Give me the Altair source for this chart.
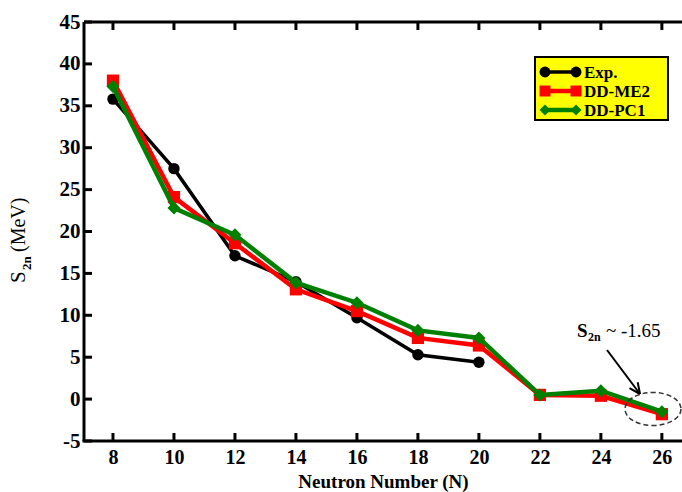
import altair as alt
import pandas as pd

# ---------------- data ----------------
N_exp = [8, 10, 12, 14, 16, 18, 20]
S2n_exp = [35.8, 27.5, 17.1, 14.0, 9.7, 5.3, 4.4]

N_th = [8, 10, 12, 14, 16, 18, 20, 22, 24, 26]
S2n_me2 = [38.0, 24.1, 18.6, 13.1, 10.5, 7.3, 6.4, 0.5, 0.4, -1.8]
S2n_pc1 = [37.3, 22.8, 19.6, 13.9, 11.5, 8.2, 7.3, 0.5, 1.0, -1.5]

series_names = ["Exp.", "DD-ME2", "DD-PC1"]
series_colors = ["#000000", "#FF0000", "#008000"]
series_shapes = ["circle", "square", "diamond"]

x_ticks = [8, 10, 12, 14, 16, 18, 20, 22, 24, 26]
y_ticks = [-5, 0, 5, 10, 15, 20, 25, 30, 35, 40, 45]

W, H = 598, 419
FONT = "Liberation Serif"

df_exp = pd.DataFrame({"N": N_exp, "S2n": S2n_exp})
df_me2 = pd.DataFrame({"N": N_th, "S2n": S2n_me2})
df_pc1 = pd.DataFrame({"N": N_th, "S2n": S2n_pc1})
df_xt = pd.DataFrame({"N": x_ticks})
df_yt = pd.DataFrame({"S2n": y_ticks})
one = pd.DataFrame({"a": [0]})

xscale = alt.Scale(domain=[7.05, 26.66], nice=False, zero=False)
yscale = alt.Scale(domain=[-5, 45], nice=False, zero=False)

xenc = alt.X("N:Q", scale=xscale,
             axis=alt.Axis(values=x_ticks, title="Neutron Number (N)",
                           labelExpr="datum.value + ''"))
yenc = alt.Y("S2n:Q", scale=yscale,
             axis=alt.Axis(values=y_ticks, title=None, labelExpr="datum.value + ''"))


def series_layer(df, color, shape, lw, size):
    line = alt.Chart(df).mark_line(color=color, strokeWidth=lw).encode(x=xenc, y=yenc)
    pts = alt.Chart(df).mark_point(shape=shape, filled=True, color=color, size=size,
                                   opacity=1).encode(x=xenc, y=yenc)
    return line + pts


exp_l = series_layer(df_exp, series_colors[0], series_shapes[0], 3.5, 130)
me2_l = series_layer(df_me2, series_colors[1], series_shapes[1], 4.5, 150)
pc1_l = series_layer(df_pc1, series_colors[2], series_shapes[2], 4.5, 170)

# frame lines (left, top, bottom)
frame_left = alt.Chart(one).mark_rule(color="black", strokeWidth=3).encode(
    x=alt.value(0), y=alt.value(0), y2=alt.value(H))
frame_top = alt.Chart(one).mark_rule(color="black", strokeWidth=3).encode(
    x=alt.value(0), x2=alt.value(W), y=alt.value(0))
frame_bot = alt.Chart(one).mark_rule(color="black", strokeWidth=3).encode(
    x=alt.value(-1.5), x2=alt.value(W), y=alt.value(H))

# inward ticks
tick_b = alt.Chart(df_xt).mark_rule(color="black", strokeWidth=3).encode(
    x=xenc, y=alt.value(H), y2=alt.value(H - 8))
tick_t = alt.Chart(df_xt).mark_rule(color="black", strokeWidth=3).encode(
    x=xenc, y=alt.value(0), y2=alt.value(8))
tick_l = alt.Chart(df_yt).mark_rule(color="black", strokeWidth=3).encode(
    y=yenc, x=alt.value(0), x2=alt.value(8))

# y-axis title with subscript
yt_S = alt.Chart(one).mark_text(text="S", font=FONT, fontSize=21, angle=270,
                                align="left", baseline="alphabetic", color="black").encode(
    x=alt.value(-59), y=alt.value(261))
yt_sub = alt.Chart(one).mark_text(text="2n", font=FONT, fontSize=13, angle=270,
                                  fontWeight="bold", align="left", baseline="alphabetic",
                                  color="black").encode(
    x=alt.value(-53), y=alt.value(248))
yt_rest = alt.Chart(one).mark_text(text="(MeV)", font=FONT, fontSize=20, angle=270,
                                   align="left", baseline="alphabetic", color="black").encode(
    x=alt.value(-59), y=alt.value(230))

# annotation
an_S = alt.Chart(one).mark_text(text="S", font=FONT, fontSize=19, fontWeight="bold",
                                align="left", baseline="alphabetic", color="black").encode(
    x=alt.value(493), y=alt.value(315))
an_sub = alt.Chart(one).mark_text(text="2n", font=FONT, fontSize=12, fontWeight="bold",
                                  align="left", baseline="alphabetic", color="black").encode(
    x=alt.value(504), y=alt.value(319))
an_val = alt.Chart(one).mark_text(text="~ -1.65", font=FONT, fontSize=19,
                                  align="left", baseline="alphabetic", color="black").encode(
    x=alt.value(522), y=alt.value(315))
arrow_line = alt.Chart(one).mark_rule(color="black", strokeWidth=2).encode(
    x=alt.value(523), x2=alt.value(556), y=alt.value(328), y2=alt.value(372))
arrow_h1 = alt.Chart(one).mark_rule(color="black", strokeWidth=2).encode(
    x=alt.value(556), x2=alt.value(553.7), y=alt.value(372), y2=alt.value(360.2))
arrow_h2 = alt.Chart(one).mark_rule(color="black", strokeWidth=2).encode(
    x=alt.value(556), x2=alt.value(545.5), y=alt.value(372), y2=alt.value(366.2))

ellipse_path = ("M1,0C1,0.326,0.552,0.59,0,0.59C-0.552,0.59,-1,0.326,-1,0"
                "C-1,-0.326,-0.552,-0.59,0,-0.59C0.552,-0.59,1,-0.326,1,0Z")
ellipse = alt.Chart(one).mark_point(shape=ellipse_path, filled=False, color="#333333",
                                    strokeWidth=1.5, strokeDash=[5, 3], size=3136,
                                    opacity=1).encode(
    x=alt.value(569), y=alt.value(387))

# legend
leg_box = alt.Chart(one).mark_rect(fill="#FFFF00", stroke="black", strokeWidth=2).encode(
    x=alt.value(451), x2=alt.value(584), y=alt.value(35), y2=alt.value(98))
leg_layers = []
leg_rows = [50, 69, 88]
leg_lw = [3.5, 4.5, 4.5]
for name, col, shp, yy, lw in zip(series_names, series_colors, series_shapes, leg_rows, leg_lw):
    leg_layers.append(alt.Chart(one).mark_rule(color=col, strokeWidth=lw).encode(
        x=alt.value(461), x2=alt.value(492), y=alt.value(yy)))
    for xx in (461, 492):
        leg_layers.append(alt.Chart(one).mark_point(shape=shp, filled=True, color=col,
                                                    size=120, opacity=1).encode(
            x=alt.value(xx), y=alt.value(yy)))
    leg_layers.append(alt.Chart(one).mark_text(text=name, font=FONT, fontSize=17,
                                               fontWeight="bold", align="left",
                                               baseline="middle", color="black").encode(
        x=alt.value(500), y=alt.value(yy + 1)))

chart = alt.layer(
    exp_l, me2_l, pc1_l,
    frame_left, frame_top, frame_bot, tick_b, tick_t, tick_l,
    yt_S, yt_sub, yt_rest,
    an_S, an_sub, an_val, arrow_line, arrow_h1, arrow_h2, ellipse,
    leg_box, *leg_layers,
).properties(
    width=W, height=H,
    autosize=alt.AutoSizeParams(type="none"),
    padding={"left": 84, "top": 22, "right": 0, "bottom": 51},
    background="white",
).configure_view(strokeWidth=0).configure_axis(
    domain=False, ticks=False, grid=False,
    labelFont=FONT, labelFontWeight="bold", labelColor="black",
    titleFont=FONT, titleFontWeight="bold", titleFontSize=19, titleColor="black",
).configure_axisX(labelPadding=6, titlePadding=5, labelFontSize=20).configure_axisY(
    labelPadding=4, labelFontSize=21)

chart.save("out.html", embed_options={"renderer": "svg", "actions": False})
